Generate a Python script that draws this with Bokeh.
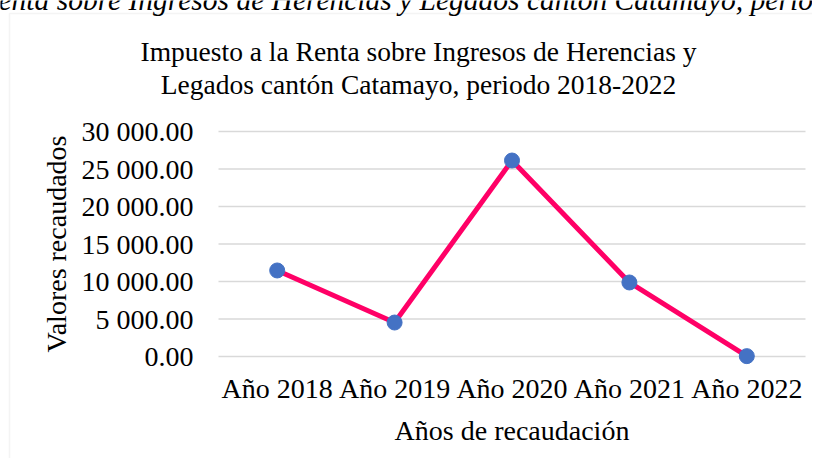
from bokeh.plotting import figure
from bokeh.models import Range1d, Label, BoxAnnotation, FixedTicker
from bokeh.embed import file_html
from bokeh.resources import INLINE

# ---- data ----
categories = ["Año 2018", "Año 2019", "Año 2020", "Año 2021", "Año 2022"]
values = [11470, 4530, 26130, 9870, 50]
y_ticks = [0, 5000, 10000, 15000, 20000, 25000, 30000]
y_tick_labels = ["0.00", "5 000.00", "10 000.00", "15 000.00", "20 000.00", "25 000.00", "30 000.00"]
title_lines = ["Impuesto a la Renta sobre Ingresos de Herencias y",
               "Legados cantón Catamayo, periodo 2018-2022"]
caption = "Impuesto a la Renta sobre Ingresos de Herencias y Legados cantón Catamayo, periodo 2018-2022"
x_title = "Años de recaudación"
y_title = "Valores recaudados"

# ---- layout (pixels inside the canvas) ----
W, H = 812, 458
PLOT_L, PLOT_R = 218, 805      # plotting area left/right
PLOT_T, PLOT_B = 131, 356      # y of top tick and of zero line
FONT = "Liberation Serif"
FS = "28px"
LBL_ADJ = 9.5                  # label baseline correction

x_idx = list(range(len(categories)))
cat_w = (PLOT_R - PLOT_L) / len(categories)
x_lo = -0.5 - PLOT_L / cat_w
x_hi = len(categories) - 0.5 + (W - PLOT_R) / cat_w
ppu = (PLOT_B - PLOT_T) / (y_ticks[-1] - y_ticks[0])   # px per unit
y_lo = -(H - PLOT_B) / ppu
y_hi = PLOT_B / ppu

p = figure(width=W, height=H,
           x_range=Range1d(x_lo, x_hi), y_range=Range1d(y_lo, y_hi),
           output_backend="svg", toolbar_location=None, min_border=0)
p.outline_line_color = None
p.background_fill_color = "white"
p.border_fill_color = "white"
p.xgrid.visible = False
p.ygrid.visible = False

# horizontal gridlines across the category area only
p.segment(x0=[-0.5] * len(y_ticks), x1=[len(categories) - 0.5] * len(y_ticks),
          y0=y_ticks, y1=y_ticks, line_color="#d9d9d9", line_width=1.4)

# axes
p.yaxis.ticker = FixedTicker(ticks=y_ticks)
p.yaxis.major_label_overrides = dict(zip(y_ticks, y_tick_labels))
p.yaxis.fixed_location = -0.5
p.yaxis.bounds = (y_ticks[0], y_ticks[-1])
p.xaxis.ticker = FixedTicker(ticks=x_idx)
p.xaxis.major_label_overrides = dict(zip(x_idx, categories))
p.xaxis.fixed_location = 0
p.xaxis.bounds = (-0.5, len(categories) - 0.5)
for ax in (p.xaxis, p.yaxis):
    ax.axis_line_color = None
    ax.major_tick_line_color = None
    ax.minor_tick_line_color = None
    ax.major_tick_out = 0
    ax.major_tick_in = 0
    ax.major_label_text_font = FONT
    ax.major_label_text_font_size = FS
    ax.major_label_text_color = "black"
    ax.axis_label_text_font = FONT
    ax.axis_label_text_font_size = FS
    ax.axis_label_text_font_style = "normal"
    ax.axis_label_text_color = "black"
p.yaxis.major_label_standoff = 25
p.yaxis.axis_label = y_title
p.yaxis.axis_label_standoff = 7
p.xaxis.major_label_standoff = 16
p.xaxis.axis_label = x_title
p.xaxis.axis_label_standoff = 8

# series
p.line(x=x_idx, y=values, line_color="#FF0066", line_width=5)
p.scatter(x=x_idx, y=values, size=15, fill_color="#4472C4", line_color="#4472C4")

# chart area border (runs past the right and bottom edges of the view)
p.add_layout(BoxAnnotation(left=9, right=W + 50, top=H - 13, bottom=-50,
                           left_units="screen", right_units="screen",
                           top_units="screen", bottom_units="screen",
                           fill_alpha=0, line_color="#d9d9d9", line_width=1.5))

# chart title (two lines)
for txt, base in zip(title_lines, [60.7, 93.3]):
    p.add_layout(Label(x=418, y=H - base + LBL_ADJ, x_units="screen", y_units="screen",
                       text=txt, text_font=FONT, text_font_size="27.5px",
                       text_color="black", text_align="center", text_baseline="alphabetic"))

# figure caption above the chart, cropped by the view
p.add_layout(Label(x=-188, y=H - 9 + LBL_ADJ, x_units="screen", y_units="screen", text=caption,
                   text_font=FONT, text_font_size="29.5px", text_font_style="italic",
                   text_color="black", text_align="left", text_baseline="alphabetic"))

open("out.html", "w").write(file_html(p, INLINE))
